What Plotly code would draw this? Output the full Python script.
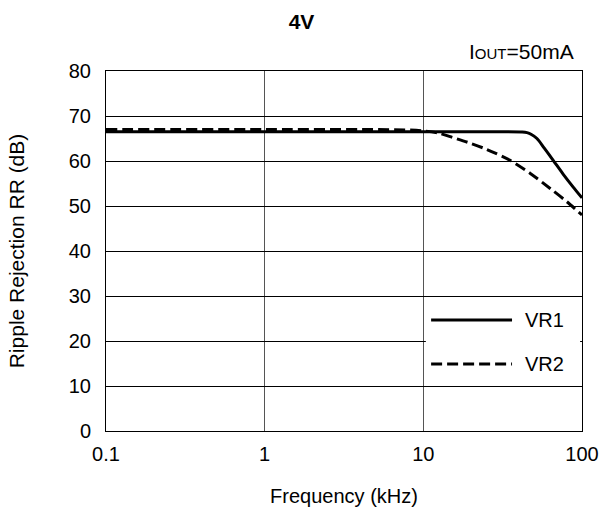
import plotly.graph_objects as go

# Ripple rejection vs frequency, VIN = 4V, IOUT = 50mA
freq_vr1 = [0.1, 1, 10, 30, 42, 45, 48, 52, 58, 66, 76, 88, 100]
rr_vr1 = [66.5, 66.5, 66.5, 66.5, 66.45, 66.3, 65.9, 65.0, 62.8, 60.1, 57.1, 54.2, 51.8]

freq_vr2 = [0.1, 1, 8, 10, 12.5, 15.4, 19.6, 25, 35, 47, 63, 80, 100]
rr_vr2 = [67.0, 67.0, 66.9, 66.7, 66.2, 65.2, 64.0, 62.6, 60.2, 57.3, 53.9, 51.0, 48.0]

font = "Liberation Sans, Arial, sans-serif"
dash = "11px,5px"

fig = go.Figure()
fig.add_trace(go.Scatter(x=freq_vr1, y=rr_vr1, mode="lines", name="VR1",
                         line=dict(color="black", width=3, shape="spline", smoothing=0.8),
                         showlegend=False))
fig.add_trace(go.Scatter(x=freq_vr2, y=rr_vr2, mode="lines", name="VR2",
                         line=dict(color="black", width=3, dash=dash, shape="spline", smoothing=0.8),
                         showlegend=False))

# hand-made legend (long line samples like the original)
fig.add_shape(type="rect", xref="paper", yref="paper", x0=0.672, x1=0.996, y0=0.156, y1=0.369,
              fillcolor="white", line=dict(width=0), layer="above")
fig.add_shape(type="line", xref="paper", yref="paper", x0=0.683, x1=0.853, y0=0.308, y1=0.308,
              line=dict(color="black", width=3), layer="above")
fig.add_shape(type="line", xref="paper", yref="paper", x0=0.683, x1=0.853, y0=0.186, y1=0.186,
              line=dict(color="black", width=3, dash=dash), layer="above")
for label, yy in [("VR1", 0.308), ("VR2", 0.186)]:
    fig.add_annotation(x=0.876, y=yy, xref="paper", yref="paper", text=label,
                       showarrow=False, xanchor="left", yanchor="middle",
                       font=dict(size=20, color="black", family=font))

fig.add_annotation(x=0.988, y=1, xref="paper", yref="paper", yshift=6,
                   text="I<span style='font-size:15px'>OUT</span>=50mA",
                   showarrow=False, xanchor="right", yanchor="bottom",
                   font=dict(size=21, color="black", family=font))

fig.update_layout(
    width=603, height=512,
    margin=dict(l=106, r=21, t=71, b=81),
    paper_bgcolor="white", plot_bgcolor="white",
    font=dict(family=font, size=20, color="black"),
    title=dict(text="<b>4V</b>", x=0.5, xanchor="center", y=0.957, yanchor="middle",
               font=dict(size=21, family=font, color="black")),
)
fig.update_xaxes(type="log", range=[-1, 2], tickvals=[0.1, 1, 10, 100],
                 ticktext=["0.1", "1", "10", "100"], automargin=False,
                 showgrid=True, gridcolor="#555555", gridwidth=1,
                 showline=True, linecolor="black", linewidth=1, mirror=True,
                 ticks="", ticklabelstandoff=5,
                 title=dict(text="Frequency (kHz)", standoff=24, font=dict(size=20)))
fig.update_yaxes(range=[0, 80], dtick=10, automargin=False,
                 showgrid=True, gridcolor="black", gridwidth=1, zeroline=False,
                 showline=True, linecolor="black", linewidth=1, mirror=True,
                 ticks="", ticklabelstandoff=10,
                 title=dict(text="Ripple Rejection RR (dB)", standoff=38, font=dict(size=21)))

# page has the default 8px body margin; drop it so the 603x512 figure fills the window
fig.write_html("out.html", config={"displayModeBar": False},
               post_script="document.body.style.margin='0';")
